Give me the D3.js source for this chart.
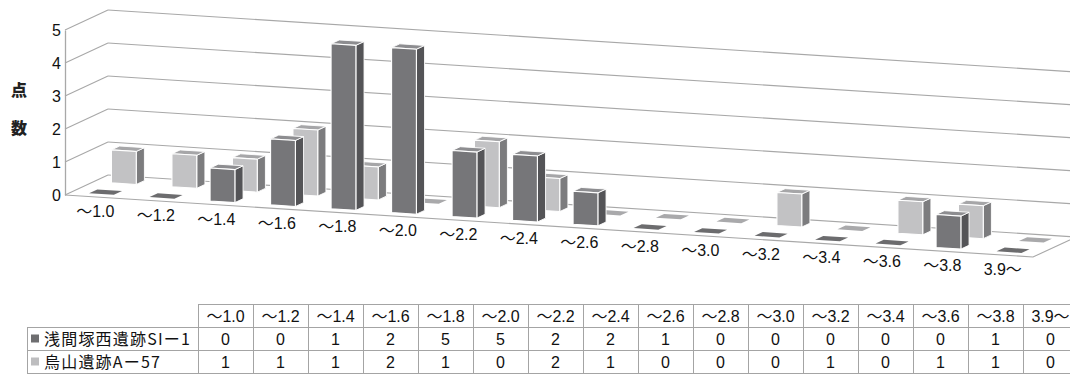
<!DOCTYPE html>
<html>
<head>
<meta charset="utf-8">
<script src="https://cdn.jsdelivr.net/npm/d3@7"></script>
<style>
  html, body { margin: 0; padding: 0; background: #fff; }
  svg { display: block; }
</style>
</head>
<body>
<svg id="chart" width="1070" height="374"></svg>
<script>
// ---- data ----
const categories = ["～1.0","～1.2","～1.4","～1.6","～1.8","～2.0","～2.2","～2.4","～2.6","～2.8","～3.0","～3.2","～3.4","～3.6","～3.8","3.9～"];
const seriesNames = ["浅間塚西遺跡SIー1", "烏山遺跡Aー57"];
const asamaValues = [0,0,1,2,5,5,2,2,1,0,0,0,0,0,1,0];
const karasuyamaValues = [1,1,1,2,1,0,2,1,0,0,0,1,0,1,1,0];
const yTicks = [0,1,2,3,4,5];
const yTitle = ["点", "数"];

// ---- geometry ----
const svg = d3.select("#chart");
const ORIGIN = [65, 195];     // front-left corner of floor
const FRONT_LEN = 968;        // length of category axis (px)
const SLOPE = 62 / 968;       // downward slope of category axis
const DEPTH = [43, -20];      // screen vector for full depth

const x = d3.scaleBand().domain(categories).range([0, FRONT_LEN]);
const y = d3.scaleLinear().domain([0, 5]).range([0, 165]);

function P(u, z, v) {
  return [ORIGIN[0] + u + z * DEPTH[0], ORIGIN[1] + u * SLOPE + z * DEPTH[1] - y(v)];
}
const poly = pts => "M" + pts.map(p => p[0].toFixed(2) + "," + p[1].toFixed(2)).join("L") + "Z";

const gridColor = "#a8a8a8";
const textColor = "#111";
const numFont = "'Liberation Sans', Arial, 'Noto Sans CJK JP', sans-serif";

// back wall gridlines
const g = svg.append("g");
g.selectAll(".grid").data(yTicks).join("line")
  .attr("x1", v => P(0, 1, v)[0]).attr("y1", v => P(0, 1, v)[1])
  .attr("x2", v => P(FRONT_LEN, 1, v)[0]).attr("y2", v => P(FRONT_LEN, 1, v)[1])
  .attr("stroke", gridColor).attr("stroke-width", 1.1);
// left wall lines
g.selectAll(".lw").data(yTicks).join("line")
  .attr("x1", v => P(0, 0, v)[0]).attr("y1", v => P(0, 0, v)[1])
  .attr("x2", v => P(0, 1, v)[0]).attr("y2", v => P(0, 1, v)[1])
  .attr("stroke", gridColor).attr("stroke-width", 1.1);
// floor edges
g.append("path")
  .attr("d", "M" + P(0, 0, 0) + "L" + P(FRONT_LEN, 0, 0) + "L" + P(FRONT_LEN, 1, 0))
  .attr("fill", "none").attr("stroke", gridColor).attr("stroke-width", 1.1);

// y axis (front-left vertical)
const yScreen = d3.scaleLinear().domain([0, 5]).range([P(0,0,0)[1], P(0,0,5)[1]]);
const yAxis = svg.append("g")
  .attr("transform", `translate(${ORIGIN[0]},0)`)
  .call(d3.axisLeft(yScreen).tickValues(yTicks).tickSize(0).tickPadding(4).tickFormat(d3.format("d")));
yAxis.select(".domain").attr("stroke", gridColor).attr("stroke-width", 1.3);
yAxis.selectAll("text")
  .attr("font-family", numFont)
  .attr("font-size", 16).attr("fill", textColor);

// y title
svg.selectAll(".ytitle").data(yTitle).join("text")
  .attr("x", 19).attr("y", (d, i) => 96 + i * 38)
  .attr("text-anchor", "middle")
  .attr("font-family", "'Noto Sans CJK JP', sans-serif")
  .attr("font-weight", 900).attr("font-size", 16).attr("fill", "#222")
  .text(d => d);

// bars
const BAR_W = 0.41;
const rows = [
  { name: seriesNames[1], values: karasuyamaValues, z0: 0.665, z1: 0.855,
    front: "#c2c2c4", side: "#7c7c7e", top: "#a6a6a8", zero: "#a9a9ab" },
  { name: seriesNames[0], values: asamaValues, z0: 0.145, z1: 0.335,
    front: "#767679", side: "#545457", top: "#8d8d90", zero: "#6c6c6e" }
];
const barLayer = svg.append("g");
rows.forEach(r => {
  const data = categories.map((c, i) => ({ c, v: r.values[i] }));
  const gb = barLayer.append("g");
  gb.selectAll("g").data(data).join("g").each(function (d) {
    const sel = d3.select(this);
    const cx = x(d.c) + x.bandwidth() / 2;
    const hw = x.bandwidth() * BAR_W / 2;
    const x0 = cx - hw, x1 = cx + hw;
    const { z0, z1 } = r;
    if (d.v === 0) {
      sel.append("path")
        .attr("d", poly([P(x0, z0, 0), P(x1, z0, 0), P(x1, z1, 0), P(x0, z1, 0)]))
        .attr("fill", r.zero);
      return;
    }
    sel.append("path")
      .attr("d", poly([P(x1, z0, 0), P(x1, z1, 0), P(x1, z1, d.v), P(x1, z0, d.v)]))
      .attr("fill", r.side).attr("stroke", "#fff").attr("stroke-width", 0.9).attr("stroke-linejoin", "round");
    sel.append("path")
      .attr("d", poly([P(x0, z0, d.v), P(x1, z0, d.v), P(x1, z1, d.v), P(x0, z1, d.v)]))
      .attr("fill", r.top).attr("stroke", "#fff").attr("stroke-width", 0.9).attr("stroke-linejoin", "round");
    sel.append("path")
      .attr("d", poly([P(x0, z0, 0), P(x1, z0, 0), P(x1, z0, d.v), P(x0, z0, d.v)]))
      .attr("fill", r.front).attr("stroke", "#fff").attr("stroke-width", 1.1).attr("stroke-linejoin", "round");
  });
});

// category labels
svg.selectAll(".cat").data(categories).join("text")
  .attr("x", d => P(x(d) + x.bandwidth() / 2, 0, 0)[0])
  .attr("y", d => P(x(d) + x.bandwidth() / 2, 0, 0)[1] + 20)
  .attr("text-anchor", "middle")
  .attr("font-family", numFont)
  .attr("font-size", 16).attr("fill", textColor)
  .text(d => d);

// ---- data table ----
const T = { left: 27, colStart: 198, colW: 55, top: 304, rowH: 23 };
const tx = d3.scaleBand().domain(categories).range([T.colStart, T.colStart + T.colW * categories.length]);
const tb = svg.append("g");
const lineColor = "#a4a4a4";
const bottom = T.top + T.rowH * 3;
// horizontal lines
tb.append("line").attr("x1", T.colStart).attr("x2", 1070).attr("y1", T.top + 0.5).attr("y2", T.top + 0.5)
  .attr("stroke", lineColor);
[1, 2, 3].forEach(k => {
  tb.append("line").attr("x1", T.left).attr("x2", 1070)
    .attr("y1", T.top + k * T.rowH + 0.5).attr("y2", T.top + k * T.rowH + 0.5)
    .attr("stroke", lineColor);
});
// vertical lines
tb.append("line").attr("x1", T.left + 0.5).attr("x2", T.left + 0.5)
  .attr("y1", T.top + T.rowH).attr("y2", bottom).attr("stroke", lineColor);
tb.selectAll(".vl").data(categories).join("line")
  .attr("x1", d => Math.round(tx(d)) + 0.5).attr("x2", d => Math.round(tx(d)) + 0.5)
  .attr("y1", T.top).attr("y2", bottom).attr("stroke", lineColor);
// header
tb.selectAll(".hd").data(categories).join("text")
  .attr("x", d => tx(d) + tx.bandwidth() / 2)
  .attr("y", T.top + T.rowH / 2 + 6)
  .attr("text-anchor", "middle").attr("font-family", numFont)
  .attr("font-size", 16).attr("fill", textColor).text(d => d);
// rows
const tableRows = [
  { name: seriesNames[0], values: asamaValues, color: "#6e6e70" },
  { name: seriesNames[1], values: karasuyamaValues, color: "#bdbdbf" }
];
tableRows.forEach((r, ri) => {
  const cy = T.top + T.rowH * (ri + 1) + T.rowH / 2;
  tb.append("rect").attr("x", 31).attr("y", cy - 4).attr("width", 8).attr("height", 8).attr("fill", r.color);
  tb.append("text").attr("x", 44).attr("y", cy + 6)
    .attr("font-family", "'Noto Sans CJK JP', sans-serif").attr("font-size", 16)
    .attr("letter-spacing", 1.2).attr("fill", textColor).text(r.name);
  tb.selectAll(null).data(categories).join("text")
    .attr("x", d => tx(d) + tx.bandwidth() / 2)
    .attr("y", cy + 6)
    .attr("text-anchor", "middle").attr("font-family", numFont)
    .attr("font-size", 16).attr("fill", textColor)
    .text((d, i) => r.values[i]);
});
</script>
</body>
</html>
